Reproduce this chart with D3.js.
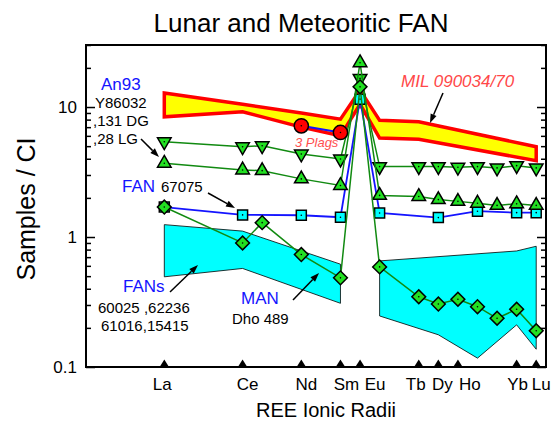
<!DOCTYPE html>
<html><head><meta charset="utf-8">
<script src="https://cdn.jsdelivr.net/npm/d3@7"></script>
<style>
html,body{margin:0;padding:0;background:#fff;}
svg{display:block;font-family:Arial,"Liberation Sans",Helvetica,sans-serif;}
</style></head>
<body>
<svg id="chart" width="554" height="428"></svg>
<script>
// ---------- data ----------
const elements    = ["La","Ce","Pr","Nd","Sm","Eu","Gd","Tb","Dy","Ho","Er","Tm","Yb","Lu"];
const ionicRadius = [1.160,1.120,1.110,1.090,1.070,1.060,1.050,1.030,1.020,1.010,1.000,0.990,0.980,0.970];
const axisElements = ["La","Ce","Nd","Sm","Eu","Tb","Dy","Ho","Yb","Lu"];

// An93 group (Y86032, 131 DG, 28 LG)
const an93Down = [5.41,4.95,5.04,4.35,3.98,16.6,3.48,3.48,3.48,3.44,3.48,3.40,3.54,3.40];
const an93Up   = [3.69,3.28,3.24,2.80,2.49,21.9,2.09,2.05,1.94,1.88,1.82,1.75,1.80,1.75];
// FAN 67075
const fan67075 = [1.70,1.48,null,1.47,1.42,11.5,1.53,null,1.41,null,1.58,null,1.54,1.54];
// MAN Dho 489
const manDho489 = [1.70,0.90,1.29,0.733,0.485,14.3,0.589,0.347,0.305,0.332,0.291,0.237,0.278,0.190];
// 3 Plags
const plags = [null,null,null,7.17,6.37,null,null,null,null,null,null,null,null,null];

// MIL 090034/70 range
const milElements = ["La","Ce","Nd","Sm","Eu","Gd","Tb","Lu"];
const milUpper    = [12.8,10.5,9.0,8.07,13.5,7.9,7.7,4.95];
const milLower    = [8.4,9.2,7.0,6.0,10.5,5.77,5.65,3.87];

// FANs range (60025, 62236, 61016, 15415)
const fansLightEl    = ["La","Ce","Sm"];
const fansLightUpper = [1.245,1.11,0.618];
const fansLightLower = [0.494,0.573,0.309];
const fansHeavyUpEl  = ["Gd","Yb","Lu"];
const fansHeavyUpper = [0.655,0.781,0.849];
const fansHeavyLoEl  = ["Gd","Dy","Er","Yb","Lu"];
const fansHeavyLower = [0.247,0.177,0.117,0.211,0.137];

const yMajor = [0.1,1,10];
const yMinor = [0.2,0.3,0.4,0.5,0.6,0.7,0.8,0.9,2,3,4,5,6,7,8,9,20,30];

// ---------- layout ----------
const L = 86, R = 546, T = 45, B = 367;
const svg = d3.select("#chart");
const rad = Object.fromEntries(elements.map((e,i)=>[e, ionicRadius[i]]));
const x = d3.scaleLinear().domain([1.20, 0.965]).range([L, R]);
const y = d3.scaleLog().domain([0.1, 30]).range([B, T]);

const GREEN_LINE = "#118a11", GREEN_FILL = "#22e022", BLUE = "#1414ff", CYAN = "#00ffff";

// bands
function band(elU, up, elL, lo){
  const pts = elU.map((e,i)=>[x(rad[e]), y(up[i])])
    .concat(elL.map((e,i)=>[x(rad[e]), y(lo[i])]).reverse());
  return "M" + pts.map(p=>p.join(",")).join("L") + "Z";
}
svg.append("path").attr("d", band(fansLightEl, fansLightUpper, fansLightEl, fansLightLower))
  .attr("fill", CYAN).attr("stroke", "#000").attr("stroke-width", 0.8);
svg.append("path").attr("d", band(fansHeavyUpEl, fansHeavyUpper, fansHeavyLoEl, fansHeavyLower))
  .attr("fill", CYAN).attr("stroke", "#000").attr("stroke-width", 0.8);
svg.append("path").attr("d", band(milElements, milUpper, milElements, milLower))
  .attr("fill", "#ffff00").attr("stroke", "#ff0000").attr("stroke-width", 3.5).attr("stroke-linejoin","miter");

// series
function pts(vals){ return elements.map((e,i)=>({e, r: ionicRadius[i], v: vals[i]})).filter(d=>d.v!=null); }
const line = d3.line().x(d=>x(d.r)).y(d=>y(d.v));

function drawSeries(vals, color, width, symbol, size, fill, rot){
  const d = pts(vals);
  svg.append("path").attr("d", line(d)).attr("fill","none").attr("stroke", color).attr("stroke-width", width);
  const g = svg.append("g");
  const sym = d3.symbol().type(symbol).size(size);
  g.selectAll("path").data(d).join("path")
    .attr("d", sym)
    .attr("transform", p=>`translate(${x(p.r)},${y(p.v)}) rotate(${rot})`)
    .attr("fill", fill).attr("stroke", "#000").attr("stroke-width", 1.5);
  g.selectAll("circle").data(d).join("circle")
    .attr("cx", p=>x(p.r)).attr("cy", p=>y(p.v)).attr("r", 0.8).attr("fill","#000");
}

drawSeries(fan67075, BLUE, 1.8, d3.symbolSquare, 100, CYAN, 0);
drawSeries(an93Down, GREEN_LINE, 1.5, d3.symbolTriangle, 80, GREEN_FILL, 180);
drawSeries(an93Up, GREEN_LINE, 1.5, d3.symbolTriangle, 80, GREEN_FILL, 0);
drawSeries(manDho489, GREEN_LINE, 1.5, d3.symbolSquare, 95, GREEN_FILL, 45);
drawSeries(plags, BLUE, 2, d3.symbolCircle, 160, "#ff0000", 0);

// frame & axes
svg.append("rect").attr("x", L).attr("y", T).attr("width", R-L).attr("height", B-T)
  .attr("fill","none").attr("stroke","#000").attr("stroke-width", 2);

function yAxis(gen, vals, size, labels){
  const g = svg.append("g").call(gen(y).tickValues(vals).tickSize(-size).tickPadding(9)
    .tickFormat(labels ? (d=>d3.format("~g")(d)) : ""));
  g.select(".domain").remove();
  g.selectAll("line").attr("stroke","#000").attr("stroke-width",1.5);
  g.selectAll("text").attr("font-size", 17).attr("fill","#000").attr("font-family",null);
  return g;
}
yAxis(d3.axisLeft, yMinor, 5, false).attr("transform",`translate(${L},0)`);
yAxis(d3.axisLeft, yMajor, 9, true).attr("transform",`translate(${L},0)`);
yAxis(d3.axisRight, yMinor, 5, false).attr("transform",`translate(${R},0)`);
yAxis(d3.axisRight, yMajor, 9, false).attr("transform",`translate(${R},0)`);

// bottom category markers and labels
const labelShift = {La:-2, Ce:5, Nd:5, Sm:6, Eu:15, Tb:-3, Dy:4, Ho:12, Yb:1, Lu:5};
const bt = svg.append("g");
bt.selectAll("path").data(axisElements).join("path")
  .attr("d", e=>{ const cx = x(rad[e]); return `M${cx-4.7},${B}L${cx},${B-7.5}L${cx+4.7},${B}Z`; })
  .attr("fill","#000");
bt.selectAll("text").data(axisElements).join("text")
  .attr("x", e=>x(rad[e]) + labelShift[e]).attr("y", 390)
  .attr("text-anchor","middle").attr("font-size", 17).text(e=>e);

// titles
svg.append("text").attr("x", 301).attr("y", 32).attr("text-anchor","middle")
  .attr("font-size", 26).text("Lunar and Meteoritic FAN");
svg.append("text").attr("transform","translate(35,209) rotate(-90)").attr("text-anchor","middle")
  .attr("font-size", 25).text("Samples / CI");
svg.append("text").attr("x", 326).attr("y", 417).attr("text-anchor","middle")
  .attr("font-size", 20).text("REE Ionic Radii");

// annotations
function txt(s, tx, ty, size, color, italic){
  svg.append("text").attr("x", tx).attr("y", ty).attr("font-size", size)
    .attr("fill", color).attr("font-style", italic ? "italic" : null).text(s);
}
txt("An93", 101, 90, 17, BLUE);
txt("Y86032", 95, 108, 15, "#000");
txt(",131 DG", 93, 126, 15, "#000");
txt(",28 LG", 93, 144, 15, "#000");
txt("FAN", 122, 192, 17, BLUE);
txt("67075", 161, 192, 15, "#000");
txt("FANs", 123, 292, 17, BLUE);
txt("60025 ,62236", 98, 313, 15, "#000");
txt("61016,15415", 101, 331, 15, "#000");
txt("MAN", 241, 304, 17, BLUE);
txt("Dho 489", 232, 324, 15, "#000");
txt("3 Plags", 295, 147, 13, "#ff5050", true);
txt("MIL 090034/70", 401, 87, 17, "#ff4848", true);

function arrow(x1,y1,x2,y2){
  const a = Math.atan2(y2-y1, x2-x1), len = 9, w = 3.2;
  const bx = x2 - len*Math.cos(a), by = y2 - len*Math.sin(a);
  svg.append("line").attr("x1",x1).attr("y1",y1).attr("x2",bx).attr("y2",by)
    .attr("stroke","#000").attr("stroke-width",1.5);
  svg.append("path").attr("d",
    `M${x2},${y2}L${bx - w*Math.sin(a)},${by + w*Math.cos(a)}L${bx + w*Math.sin(a)},${by - w*Math.cos(a)}Z`)
    .attr("fill","#000");
}
arrow(141,139,159,157);
arrow(208,193,235,208);
arrow(170,292,198,265);
arrow(293,300,319,273);
arrow(443,93,430,123);
</script>
</body></html>
